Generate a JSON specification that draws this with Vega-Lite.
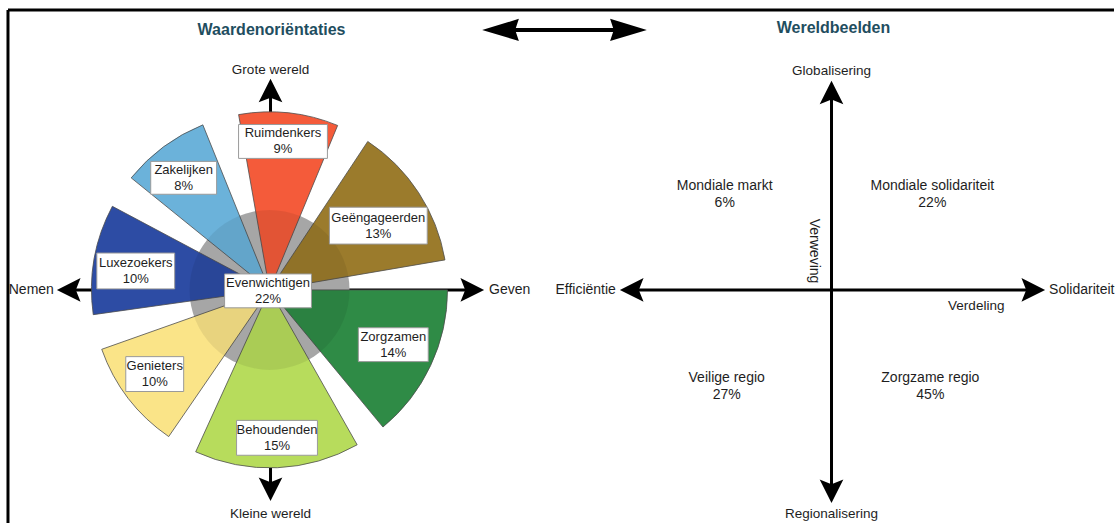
{
  "$schema": "https://vega.github.io/schema/vega-lite/v6.json",
  "width": 1116,
  "height": 525,
  "autosize": {"type": "fit", "contains": "padding"},
  "padding": 0,
  "background": "white",
  "config": {"view": {"stroke": null}, "text": {"font": "Liberation Sans"}},
  "datasets": {
    "frame": [
      {"x": 8, "y": 10, "x2": 1116, "y2": 10},
      {"x": 8, "y": 10, "x2": 8, "y2": 525}
    ],
    "axes": [
      {"x": 62, "y": 291, "x2": 480, "y2": 291},
      {"x": 271, "y": 84, "x2": 271, "y2": 499},
      {"x": 626, "y": 291, "x2": 1042, "y2": 291},
      {"x": 833, "y": 86, "x2": 833, "y2": 500}
    ],
    "topline": [{"x": 492, "y": 30, "x2": 640, "y2": 30}],
    "heads": [
      {"x": 57, "y": 291, "dir": 270},
      {"x": 485, "y": 291, "dir": 90},
      {"x": 271, "y": 79, "dir": 0},
      {"x": 271, "y": 503, "dir": 180},
      {"x": 621, "y": 291, "dir": 270},
      {"x": 1047, "y": 291, "dir": 90},
      {"x": 833, "y": 81, "dir": 0},
      {"x": 833, "y": 505, "dir": 180}
    ],
    "topheads": [
      {"x": 483, "y": 30, "dir": 270},
      {"x": 648, "y": 30, "dir": 90}
    ],
    "disc": [{"name": "Evenwichtigen", "t0": 0, "t1": 360, "r": 80, "cx": 270, "cy": 291}],
    "sectors": [
      {"name": "Ruimdenkers", "t0": -10, "t1": 22.5, "r": 178, "cx": 270, "cy": 291},
      {"name": "Zakelijken", "t0": -51, "t1": -22, "r": 178, "cx": 270, "cy": 291},
      {"name": "Luxezoekers", "t0": -98, "t1": -62, "r": 178, "cx": 270, "cy": 291},
      {"name": "Geëngageerden", "t0": 33.5, "t1": 80.3, "r": 178, "cx": 270, "cy": 291},
      {"name": "Zorgzamen", "t0": 90, "t1": 140.4, "r": 178, "cx": 270, "cy": 291},
      {"name": "Behoudenden", "t0": 150.5, "t1": 204.5, "r": 178, "cx": 270, "cy": 291},
      {"name": "Genieters", "t0": 214.5, "t1": 250.5, "r": 178, "cx": 270, "cy": 291}
    ],
    "boxes": [
      {"lbl": "Ruimdenkers\n9%", "x1": 239, "x2": 328, "y1": 125, "y2": 159, "lx": 283.5, "ly": 142},
      {"lbl": "Zakelijken\n8%", "x1": 151, "x2": 217, "y1": 162, "y2": 195, "lx": 184, "ly": 178.5},
      {"lbl": "Luxezoekers\n10%", "x1": 97, "x2": 175, "y1": 254, "y2": 290, "lx": 136, "ly": 272},
      {"lbl": "Evenwichtigen\n22%", "x1": 225, "x2": 312, "y1": 275, "y2": 309, "lx": 268.5, "ly": 292},
      {"lbl": "Geëngageerden\n13%", "x1": 330, "x2": 428, "y1": 208, "y2": 245, "lx": 379, "ly": 226.5},
      {"lbl": "Zorgzamen\n14%", "x1": 359, "x2": 429, "y1": 329, "y2": 363, "lx": 394, "ly": 346},
      {"lbl": "Behoudenden\n15%", "x1": 237, "x2": 318, "y1": 422, "y2": 457, "lx": 277.5, "ly": 439.5},
      {"lbl": "Genieters\n10%", "x1": 126, "x2": 184, "y1": 358, "y2": 393, "lx": 155, "ly": 375.5}
    ],
    "titles": [
      {"txt": "Waardenoriëntaties", "x": 272, "y": 30},
      {"txt": "Wereldbeelden", "x": 835, "y": 28}
    ],
    "ctext": [
      {"txt": "Grote wereld", "x": 271, "y": 70},
      {"txt": "Kleine wereld", "x": 271, "y": 516},
      {"txt": "Globalisering", "x": 833, "y": 71},
      {"txt": "Regionalisering", "x": 833, "y": 516},
      {"txt": "Verdeling", "x": 978, "y": 307}
    ],
    "qtext": [
      {"txt": "Mondiale markt\n6%", "x": 726, "y": 195},
      {"txt": "Mondiale solidariteit\n22%", "x": 934, "y": 195},
      {"txt": "Veilige regio\n27%", "x": 728, "y": 388},
      {"txt": "Zorgzame regio\n45%", "x": 932, "y": 388}
    ],
    "ltext": [
      {"txt": "Geven", "x": 490, "y": 291},
      {"txt": "Solidariteit", "x": 1051, "y": 291}
    ],
    "rtext": [
      {"txt": "Nemen", "x": 54, "y": 291},
      {"txt": "Efficiëntie", "x": 617, "y": 291}
    ],
    "vtext": [{"txt": "Verweving", "x": 815, "y": 252}]
  },
  "layer": [
    {
      "data": {"name": "frame"},
      "mark": {"type": "rule", "strokeWidth": 3, "color": "black"},
      "encoding": {
        "x": {"field": "x", "type": "quantitative", "scale": {"domain": [0, 1116], "nice": false, "zero": false}, "axis": null},
        "y": {"field": "y", "type": "quantitative", "scale": {"domain": [0, 525], "reverse": true, "nice": false, "zero": false}, "axis": null},
        "x2": {"field": "x2"},
        "y2": {"field": "y2"}
      }
    },
    {
      "data": {"name": "axes"},
      "mark": {"type": "rule", "strokeWidth": 3, "color": "black"},
      "encoding": {
        "x": {"field": "x", "type": "quantitative", "scale": {"domain": [0, 1116], "nice": false, "zero": false}, "axis": null},
        "y": {"field": "y", "type": "quantitative", "scale": {"domain": [0, 525], "reverse": true, "nice": false, "zero": false}, "axis": null},
        "x2": {"field": "x2"},
        "y2": {"field": "y2"}
      }
    },
    {
      "data": {"name": "topline"},
      "mark": {"type": "rule", "strokeWidth": 4, "color": "black"},
      "encoding": {
        "x": {"field": "x", "type": "quantitative", "scale": {"domain": [0, 1116], "nice": false, "zero": false}, "axis": null},
        "y": {"field": "y", "type": "quantitative", "scale": {"domain": [0, 525], "reverse": true, "nice": false, "zero": false}, "axis": null},
        "x2": {"field": "x2"},
        "y2": {"field": "y2"}
      }
    },
    {
      "data": {"name": "disc"},
      "mark": {"type": "arc", "color": "#b3b3b3"},
      "encoding": {
        "x": {"field": "cx", "type": "quantitative", "scale": {"domain": [0, 1116], "nice": false, "zero": false}, "axis": null},
        "y": {"field": "cy", "type": "quantitative", "scale": {"domain": [0, 525], "reverse": true, "nice": false, "zero": false}, "axis": null},
        "theta": {"field": "t0", "type": "quantitative", "scale": {"type": "linear", "domain": [0, 360], "range": [0, 6.283185307179586], "zero": false}, "stack": null},
        "theta2": {"field": "t1"},
        "radius": {"field": "r", "type": "quantitative", "scale": {"type": "linear", "domain": [0, 525], "range": [0, 525], "zero": true}}
      }
    },
    {
      "data": {"name": "sectors"},
      "mark": {"type": "arc", "stroke": "#4d4d4d", "strokeWidth": 0.8, "opacity": 1},
      "encoding": {
        "x": {"field": "cx", "type": "quantitative", "scale": {"domain": [0, 1116], "nice": false, "zero": false}, "axis": null},
        "y": {"field": "cy", "type": "quantitative", "scale": {"domain": [0, 525], "reverse": true, "nice": false, "zero": false}, "axis": null},
        "theta": {"field": "t0", "type": "quantitative", "scale": {"type": "linear", "domain": [0, 360], "range": [0, 6.283185307179586], "zero": false}, "stack": null},
        "theta2": {"field": "t1"},
        "radius": {"field": "r", "type": "quantitative", "scale": {"type": "linear", "domain": [0, 525], "range": [0, 525], "zero": true}},
        "color": {
          "field": "name",
          "type": "nominal",
          "legend": null,
          "scale": {
            "domain": ["Ruimdenkers", "Zakelijken", "Luxezoekers", "Geëngageerden", "Zorgzamen", "Behoudenden", "Genieters"],
            "range": ["#f45b3a", "#6bb2da", "#2d4ca4", "#9b7b2c", "#2f8b46", "#b7dc5c", "#fae488"]
          }
        }
      }
    },
    {
      "data": {"name": "disc"},
      "mark": {"type": "arc", "color": "#000000", "opacity": 0.07},
      "encoding": {
        "x": {"field": "cx", "type": "quantitative", "scale": {"domain": [0, 1116], "nice": false, "zero": false}, "axis": null},
        "y": {"field": "cy", "type": "quantitative", "scale": {"domain": [0, 525], "reverse": true, "nice": false, "zero": false}, "axis": null},
        "theta": {"field": "t0", "type": "quantitative", "scale": {"type": "linear", "domain": [0, 360], "range": [0, 6.283185307179586], "zero": false}, "stack": null},
        "theta2": {"field": "t1"},
        "radius": {"field": "r", "type": "quantitative", "scale": {"type": "linear", "domain": [0, 525], "range": [0, 525], "zero": true}}
      }
    },
    {
      "data": {"name": "boxes"},
      "mark": {"type": "rect", "fill": "white", "stroke": "#9a9a9a", "strokeWidth": 1},
      "encoding": {
        "x": {"field": "x1", "type": "quantitative", "scale": {"domain": [0, 1116], "nice": false, "zero": false}, "axis": null},
        "x2": {"field": "x2"},
        "y": {"field": "y1", "type": "quantitative", "scale": {"domain": [0, 525], "reverse": true, "nice": false, "zero": false}, "axis": null},
        "y2": {"field": "y2"}
      }
    },
    {
      "data": {"name": "boxes"},
      "mark": {"type": "text", "fontSize": 13, "color": "#1e1e1e", "align": "center", "baseline": "middle", "lineBreak": "\n", "lineHeight": 16, "dy": -8},
      "encoding": {
        "x": {"field": "lx", "type": "quantitative", "scale": {"domain": [0, 1116], "nice": false, "zero": false}, "axis": null},
        "y": {"field": "ly", "type": "quantitative", "scale": {"domain": [0, 525], "reverse": true, "nice": false, "zero": false}, "axis": null},
        "text": {"field": "lbl", "type": "nominal"}
      }
    },
    {
      "data": {"name": "heads"},
      "mark": {"type": "point", "shape": "M0,0L1,2L0,1.6L-1,2Z", "filled": true, "color": "black", "opacity": 1, "size": 560, "strokeWidth": 0},
      "encoding": {
        "x": {"field": "x", "type": "quantitative", "scale": {"domain": [0, 1116], "nice": false, "zero": false}, "axis": null},
        "y": {"field": "y", "type": "quantitative", "scale": {"domain": [0, 525], "reverse": true, "nice": false, "zero": false}, "axis": null},
        "angle": {"field": "dir", "type": "quantitative", "scale": null}
      }
    },
    {
      "data": {"name": "topheads"},
      "mark": {"type": "point", "shape": "M0,0L0.9,3L0,2.7L-0.9,3Z", "filled": true, "color": "black", "opacity": 1, "size": 600, "strokeWidth": 0},
      "encoding": {
        "x": {"field": "x", "type": "quantitative", "scale": {"domain": [0, 1116], "nice": false, "zero": false}, "axis": null},
        "y": {"field": "y", "type": "quantitative", "scale": {"domain": [0, 525], "reverse": true, "nice": false, "zero": false}, "axis": null},
        "angle": {"field": "dir", "type": "quantitative", "scale": null}
      }
    },
    {
      "data": {"name": "titles"},
      "mark": {"type": "text", "fontSize": 16, "fontWeight": "bold", "color": "#1f4e5f", "align": "center", "baseline": "middle"},
      "encoding": {
        "x": {"field": "x", "type": "quantitative", "scale": {"domain": [0, 1116], "nice": false, "zero": false}, "axis": null},
        "y": {"field": "y", "type": "quantitative", "scale": {"domain": [0, 525], "reverse": true, "nice": false, "zero": false}, "axis": null},
        "text": {"field": "txt", "type": "nominal"}
      }
    },
    {
      "data": {"name": "ctext"},
      "mark": {"type": "text", "fontSize": 13.5, "color": "#1e1e1e", "align": "center", "baseline": "middle"},
      "encoding": {
        "x": {"field": "x", "type": "quantitative", "scale": {"domain": [0, 1116], "nice": false, "zero": false}, "axis": null},
        "y": {"field": "y", "type": "quantitative", "scale": {"domain": [0, 525], "reverse": true, "nice": false, "zero": false}, "axis": null},
        "text": {"field": "txt", "type": "nominal"}
      }
    },
    {
      "data": {"name": "qtext"},
      "mark": {"type": "text", "fontSize": 14, "color": "#1e1e1e", "align": "center", "baseline": "middle", "lineBreak": "\n", "lineHeight": 17, "dy": -8.5},
      "encoding": {
        "x": {"field": "x", "type": "quantitative", "scale": {"domain": [0, 1116], "nice": false, "zero": false}, "axis": null},
        "y": {"field": "y", "type": "quantitative", "scale": {"domain": [0, 525], "reverse": true, "nice": false, "zero": false}, "axis": null},
        "text": {"field": "txt", "type": "nominal"}
      }
    },
    {
      "data": {"name": "ltext"},
      "mark": {"type": "text", "fontSize": 14, "color": "#1e1e1e", "align": "left", "baseline": "middle"},
      "encoding": {
        "x": {"field": "x", "type": "quantitative", "scale": {"domain": [0, 1116], "nice": false, "zero": false}, "axis": null},
        "y": {"field": "y", "type": "quantitative", "scale": {"domain": [0, 525], "reverse": true, "nice": false, "zero": false}, "axis": null},
        "text": {"field": "txt", "type": "nominal"}
      }
    },
    {
      "data": {"name": "rtext"},
      "mark": {"type": "text", "fontSize": 14, "color": "#1e1e1e", "align": "right", "baseline": "middle"},
      "encoding": {
        "x": {"field": "x", "type": "quantitative", "scale": {"domain": [0, 1116], "nice": false, "zero": false}, "axis": null},
        "y": {"field": "y", "type": "quantitative", "scale": {"domain": [0, 525], "reverse": true, "nice": false, "zero": false}, "axis": null},
        "text": {"field": "txt", "type": "nominal"}
      }
    },
    {
      "data": {"name": "vtext"},
      "mark": {"type": "text", "fontSize": 14, "color": "#1e1e1e", "align": "center", "baseline": "middle", "angle": 90},
      "encoding": {
        "x": {"field": "x", "type": "quantitative", "scale": {"domain": [0, 1116], "nice": false, "zero": false}, "axis": null},
        "y": {"field": "y", "type": "quantitative", "scale": {"domain": [0, 525], "reverse": true, "nice": false, "zero": false}, "axis": null},
        "text": {"field": "txt", "type": "nominal"}
      }
    }
  ]
}
